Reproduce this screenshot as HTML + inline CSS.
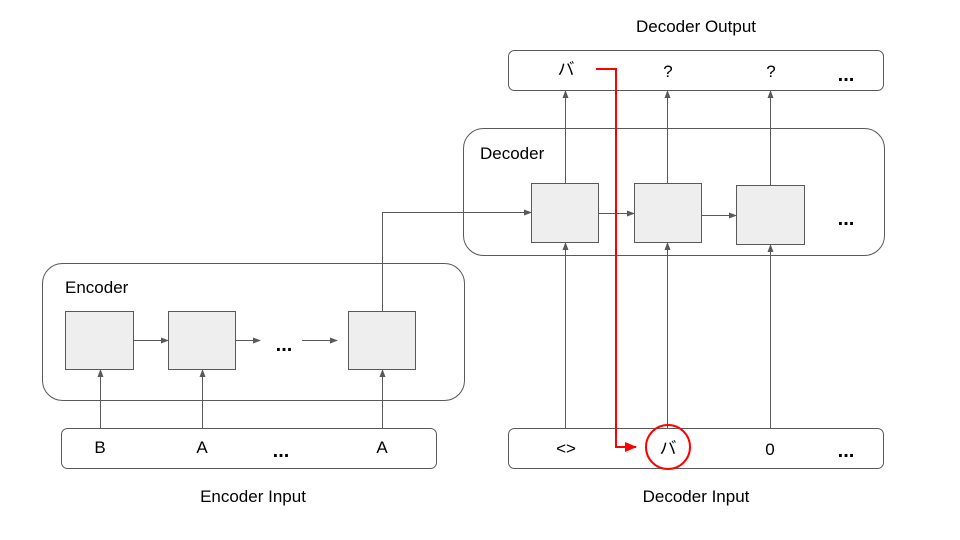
<!DOCTYPE html>
<html><head><meta charset="utf-8"><style>
html,body{margin:0;padding:0;background:#fff;}
svg{display:block;}
text{font-family:"Liberation Sans","Noto Sans CJK JP",sans-serif;fill:#000;}
.e{font-size:20px;font-weight:bold;}
</style></head><body>
<svg width="960" height="540" viewBox="0 0 960 540" xmlns="http://www.w3.org/2000/svg">
<defs>
<marker id="a" markerWidth="8" markerHeight="6" refX="7" refY="3" orient="auto" markerUnits="userSpaceOnUse">
<path d="M0,0 L8,3 L0,6 Z" fill="#595959"/></marker>
<marker id="r" markerWidth="12" markerHeight="10" refX="11" refY="5" orient="auto" markerUnits="userSpaceOnUse">
<path d="M0,0 L12,5 L0,10 Z" fill="#ff0000"/></marker>
</defs>
<g fill="none" stroke="#595959" stroke-width="1">
<rect x="508.5" y="50.5" width="375" height="40" rx="6"/>
<rect x="463.5" y="128.5" width="421" height="127" rx="20"/>
<rect x="42.5" y="263.5" width="422" height="137" rx="20"/>
<rect x="61.5" y="428.5" width="375" height="40" rx="6"/>
<rect x="508.5" y="428.5" width="375" height="40" rx="6"/>
</g>
<g fill="#eeeeee" stroke="#595959" stroke-width="1">
<rect x="531.5" y="183.5" width="67" height="59"/>
<rect x="634.5" y="183.5" width="67" height="59"/>
<rect x="736.5" y="185.5" width="68" height="59"/>
<rect x="65.5" y="311.5" width="68" height="58"/>
<rect x="168.5" y="311.5" width="67" height="58"/>
<rect x="348.5" y="311.5" width="67" height="58"/>
</g>
<g stroke="#595959" stroke-width="1" fill="none" marker-end="url(#a)">
<line x1="100.5" y1="428" x2="100.5" y2="370"/>
<line x1="202.5" y1="428" x2="202.5" y2="370"/>
<line x1="382.5" y1="428" x2="382.5" y2="370"/>
<line x1="133" y1="340.5" x2="168" y2="340.5"/>
<line x1="235" y1="340.5" x2="260" y2="340.5"/>
<line x1="302" y1="340.5" x2="337" y2="340.5"/>
<polyline points="382.5,311 382.5,212.5 531,212.5"/>
<line x1="598" y1="213.5" x2="634" y2="213.5"/>
<line x1="701" y1="215.5" x2="736" y2="215.5"/>
<line x1="565.5" y1="428" x2="565.5" y2="243"/>
<line x1="667.5" y1="428" x2="667.5" y2="243"/>
<line x1="770.5" y1="428" x2="770.5" y2="245"/>
<line x1="565.5" y1="183" x2="565.5" y2="91"/>
<line x1="667.5" y1="183" x2="667.5" y2="91"/>
<line x1="770.5" y1="185" x2="770.5" y2="91"/>
</g>
<polyline points="596,69 616,69 616,447 636,447" fill="none" stroke="#ff0000" stroke-width="2" marker-end="url(#r)"/>
<circle cx="668" cy="447" r="22" fill="none" stroke="#ff0000" stroke-width="2"/>
<g font-size="17">
<text x="696" y="32" text-anchor="middle">Decoder Output</text>
<text x="480" y="159">Decoder</text>
<text x="65" y="293">Encoder</text>
<text x="253" y="502" text-anchor="middle">Encoder Input</text>
<text x="696" y="502" text-anchor="middle">Decoder Input</text>
<text x="566" y="75" text-anchor="middle">バ</text>
<text x="668" y="77" text-anchor="middle">?</text>
<text x="771" y="77" text-anchor="middle">?</text>
<text class="e" x="846" y="81" text-anchor="middle">...</text>
<text class="e" x="846" y="225" text-anchor="middle">...</text>
<text class="e" x="284" y="351" text-anchor="middle">...</text>
<text x="100" y="453" text-anchor="middle">B</text>
<text x="202" y="453" text-anchor="middle">A</text>
<text class="e" x="281" y="457" text-anchor="middle">...</text>
<text x="382" y="453" text-anchor="middle">A</text>
<text x="566" y="454" text-anchor="middle">&lt;&gt;</text>
<text x="668" y="454" text-anchor="middle">バ</text>
<text x="770" y="455" text-anchor="middle">0</text>
<text class="e" x="846" y="457" text-anchor="middle">...</text>
</g>
</svg>
</body></html>
